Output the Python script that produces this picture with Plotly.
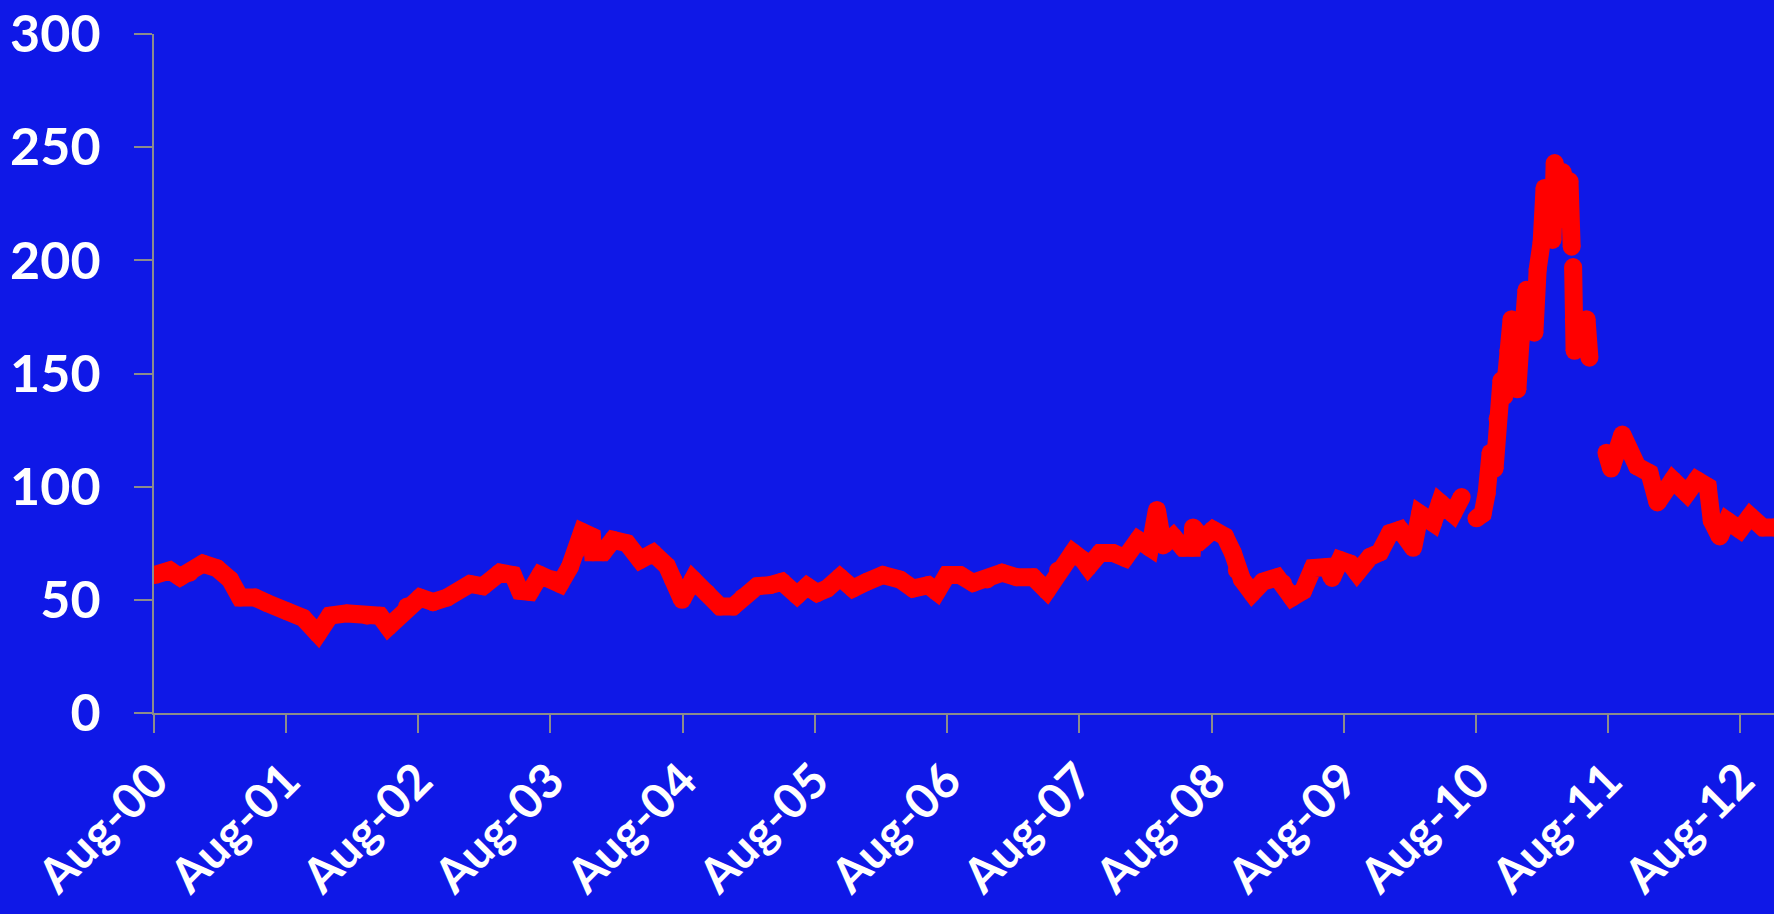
import plotly.graph_objects as go

# ---- data ----
dates = [
    "2000-08-04", "2000-09-14", "2000-10-12", "2000-11-08", "2000-12-14",
    "2001-01-22", "2001-02-27", "2001-03-27", "2001-05-07", "2001-06-09",
    "2001-08-03", "2001-09-17", "2001-10-28", "2001-11-30", "2002-01-16",
    "2002-03-13", "2002-04-17", "2002-05-10", "2002-07-01", "2002-08-06",
    "2002-09-11", "2002-10-20", "2002-12-22", "2003-01-27", "2003-03-15",
    "2003-04-20", "2003-05-09", "2003-06-06", "2003-07-04", "2003-08-08",
    "2003-08-28", "2003-09-24", "2003-10-14", "2003-10-28", "2003-11-24",
    "2003-11-27", "2003-12-25", "2004-01-21", "2004-02-29", "2004-04-05",
    "2004-05-11", "2004-06-18", "2004-07-05", "2004-07-30", "2004-08-29",
    "2004-10-07", "2004-11-12", "2004-12-18", "2005-01-14", "2005-02-22",
    "2005-03-30", "2005-05-02", "2005-06-13", "2005-07-10", "2005-08-07",
    "2005-09-04", "2005-10-09", "2005-11-14", "2005-12-23", "2006-02-05",
    "2006-03-24", "2006-04-29", "2006-06-10", "2006-07-04", "2006-08-01",
    "2006-09-06", "2006-10-12", "2006-11-20", "2006-12-31", "2007-02-10",
    "2007-03-27", "2007-05-04", "2007-06-04", "2007-07-15", "2007-08-12",
    "2007-08-26", "2007-09-28", "2007-11-03", "2007-12-06", "2008-01-11",
    "2008-02-13", "2008-03-03", "2008-03-20", "2008-04-17", "2008-05-14",
    "2008-06-08", "2008-06-11", "2008-07-08", "2008-08-05", "2008-09-07",
    "2008-09-29", "2008-10-10", "2008-10-24", "2008-11-21", "2008-12-21",
    "2009-01-29", "2009-02-14", "2009-03-11", "2009-04-11", "2009-05-08",
    "2009-06-16", "2009-06-30", "2009-07-22", "2009-08-19", "2009-09-07",
    "2009-10-13", "2009-11-09", "2009-12-07", "2010-01-04", "2010-02-09",
    "2010-02-28", "2010-04-05", "2010-04-24", "2010-05-30", "2010-06-23",
    "2010-07-15",
    "2010-08-03", "2010-08-20", "2010-08-31", "2010-09-11", "2010-09-22",
    "2010-09-30", "2010-10-11", "2010-10-19", "2010-10-30", "2010-11-08",
    "2010-11-13", "2010-11-24", "2010-12-03", "2010-12-11", "2010-12-19",
    "2010-12-30", "2011-01-10", "2011-01-19", "2011-01-30", "2011-02-07",
    "2011-02-15", "2011-02-21", "2011-03-01", "2011-03-07", "2011-03-15",
    "2011-03-20", "2011-03-29", "2011-04-06", "2011-04-17", "2011-04-23",
    "2011-04-25",
    "2011-04-27", "2011-04-29", "2011-05-01", "2011-05-15", "2011-05-26",
    "2011-06-03", "2011-06-11",
    "2011-07-05",
    "2011-07-28", "2011-08-10", "2011-09-10", "2011-10-21", "2011-11-24",
    "2011-12-16", "2012-01-27", "2012-03-06", "2012-04-02", "2012-05-03",
    "2012-05-14", "2012-06-05", "2012-06-25", "2012-07-31", "2012-08-28",
    "2012-10-02", "2012-11-02",
]

values = [
    61, 63, 60, 62, 66,
    64, 59, 51, 51, 48.6,
    45, 42, 35, 43, 44,
    43, 43, 38, 47, 51,
    49, 51, 57, 56, 62,
    61, 54, 53.5, 61, 59,
    57, 64.5, 72, 80, 78,
    71, 71, 76.5, 75, 67.6,
    70.7, 65, 59, 50, 59,
    53, 47, 47, 51, 56,
    56.5, 58, 52, 56, 53,
    55, 60, 55, 58, 61,
    59, 55, 56.5, 53.5, 61,
    61, 57.5, 59, 62, 60,
    60, 54, 63, 71, 67.6,
    64.5, 70.7, 70.7, 68.5, 76.5,
    73, 89.7, 74, 78, 73,
    73, 82, 77, 81, 78,
    70.7, 63, 59, 53, 58,
    60, 57.4, 51, 54, 64,
    64.5, 59.7, 67.6, 66, 62,
    69, 71, 79.5, 81, 73,
    88, 84, 93, 88, 95.4,
    None,
    86, 88, 97, 115, 108,
    130, 147, 140, 160, 174,
    150, 143, 165, 170, 187,
    172, 168, 196, 208, 232,
    215, 230, 209, 243, 225,
    218, 239, 225, 235, 206,
    None,
    197, 174, 160, 168, 165,
    174, 157,
    None,
    115, 108, 123, 109, 106,
    93, 103, 97, 103, 100,
    85, 78, 85, 81, 87,
    82, 82,
]

tick_dates = ["%d-08-01" % y for y in range(2000, 2013)]
tick_labels = ["Aug-%02d" % (y % 100) for y in range(2000, 2013)]
y_ticks = [0, 50, 100, 150, 200, 250, 300]

BG = "#0F18E7"
AXIS = "#8C8C8C"
YFONT = dict(family="Lato, 'Open Sans', sans-serif", size=52, color="white", weight="bold")
XFONT = dict(family="Lato, 'Open Sans', sans-serif", size=48, color="white", weight="bold")

fig = go.Figure()
fig.add_trace(go.Scatter(
    x=dates, y=values, mode="lines+markers",
    line=dict(color="#FF0000", width=18),
    marker=dict(color="#FF0000", size=18, line=dict(width=0)),
    connectgaps=False, showlegend=False, hoverinfo="skip",
))

fig.update_layout(
    width=1774, height=914,
    paper_bgcolor=BG, plot_bgcolor=BG,
    margin=dict(l=154, r=0, t=34, b=201, autoexpand=False),
    showlegend=False,
)
fig.update_xaxes(
    type="date", range=["2000-08-01", "2012-11-02"],
    tickmode="array", tickvals=tick_dates, ticktext=tick_labels,
    tickangle=-45, tickfont=XFONT, automargin=False,
    ticks="outside", ticklen=18, tickwidth=2, tickcolor=AXIS,
    ticklabelstandoff=0,
    showline=True, linecolor=AXIS, linewidth=2,
    showgrid=False, zeroline=False,
)
fig.update_yaxes(
    range=[0, 300], tickmode="array", tickvals=y_ticks,
    ticktext=[str(v) for v in y_ticks], tickfont=YFONT, automargin=False,
    ticks="outside", ticklen=18, tickwidth=2, tickcolor=AXIS,
    ticklabelstandoff=23,
    showline=True, linecolor=AXIS, linewidth=2,
    showgrid=False, zeroline=False,
)

fig.write_html("out.html")
